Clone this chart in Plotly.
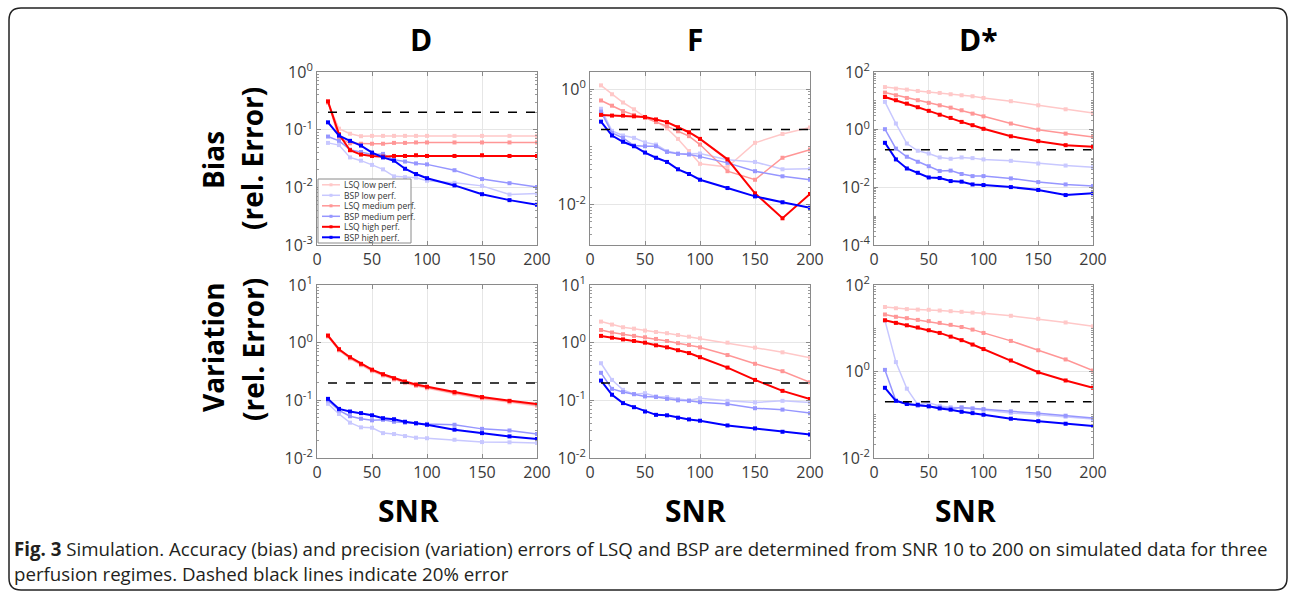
import plotly.graph_objects as go

W, H = 1292, 595

SNR = [10, 20, 30, 40, 50, 60, 70, 80, 90, 100, 125, 150, 175, 200]

series_names = ["LSQ low perf.", "BSP low perf.", "LSQ medium perf.",
                "BSP medium perf.", "LSQ high perf.", "BSP high perf."]
series_colors = ["#FFC8C8", "#C8C8FF", "#FF9696", "#9696FF", "#FF0000", "#0000FF"]
series_widths = [1.5, 1.5, 1.5, 1.5, 2, 2]

# ---- D bias
D_bias_LSQ_low = [0.29, 0.104, 0.085, 0.077, 0.078, 0.078, 0.078, 0.078, 0.078, 0.078, 0.078, 0.078, 0.078, 0.078]
D_bias_LSQ_med = [0.30, 0.072, 0.058, 0.057, 0.057, 0.057, 0.059, 0.059, 0.060, 0.060, 0.060, 0.060, 0.060, 0.060]
D_bias_LSQ_high = [0.31, 0.083, 0.044, 0.037, 0.035, 0.034, 0.035, 0.035, 0.036, 0.035, 0.035, 0.036, 0.035, 0.035]
D_bias_BSP_low = [0.059, 0.054, 0.033, 0.029, 0.0245, 0.0205, 0.0155, 0.015, 0.0147, 0.013, 0.012, 0.0106, 0.0075, 0.0078]
D_bias_BSP_med = [0.076, 0.064, 0.045, 0.041, 0.037, 0.038, 0.030, 0.028, 0.026, 0.025, 0.0198, 0.0139, 0.0118, 0.0101]
D_bias_BSP_high = [0.134, 0.079, 0.064, 0.053, 0.040, 0.033, 0.029, 0.021, 0.017, 0.0144, 0.0108, 0.0076, 0.006, 0.005]

# ---- F bias
F_bias_LSQ_low = [1.17, 0.82, 0.59, 0.45, 0.33, 0.28, 0.21, 0.138, 0.085, 0.051, 0.045, 0.118, 0.168, 0.217]
F_bias_LSQ_med = [0.64, 0.52, 0.42, 0.36, 0.32, 0.27, 0.23, 0.187, 0.154, 0.11, 0.038, 0.027, 0.065, 0.09]
F_bias_LSQ_high = [0.36, 0.35, 0.35, 0.34, 0.33, 0.30, 0.27, 0.22, 0.18, 0.138, 0.061, 0.0157, 0.0058, 0.0153]
F_bias_BSP_low = [0.46, 0.19, 0.158, 0.144, 0.12, 0.11, 0.085, 0.077, 0.076, 0.077, 0.06, 0.055, 0.041, 0.042]
F_bias_BSP_med = [0.41, 0.175, 0.144, 0.106, 0.103, 0.103, 0.082, 0.076, 0.074, 0.068, 0.053, 0.038, 0.031, 0.027]
F_bias_BSP_high = [0.275, 0.158, 0.123, 0.103, 0.08, 0.065, 0.055, 0.041, 0.034, 0.027, 0.0194, 0.0139, 0.011, 0.0088]

# ---- D* bias
Ds_bias_LSQ_low = [30, 26.5, 24.5, 22, 20.3, 18.8, 16.9, 15.6, 14.4, 12.6, 9.7, 7.0, 5.1, 3.8]
Ds_bias_LSQ_med = [19.3, 15.6, 12.6, 10.5, 8.5, 7.0, 5.8, 4.7, 3.6, 2.9, 1.63, 1.0, 0.73, 0.56]
Ds_bias_LSQ_high = [13.6, 10.5, 8.0, 6.0, 4.5, 3.3, 2.56, 1.86, 1.43, 1.07, 0.59, 0.40, 0.29, 0.254]
Ds_bias_BSP_low = [9.2, 1.63, 0.33, 0.185, 0.149, 0.109, 0.098, 0.109, 0.103, 0.093, 0.083, 0.067, 0.057, 0.050]
Ds_bias_BSP_med = [1.04, 0.22, 0.115, 0.077, 0.054, 0.037, 0.038, 0.029, 0.0245, 0.0245, 0.0204, 0.0152, 0.0126, 0.0111]
Ds_bias_BSP_high = [0.35, 0.093, 0.045, 0.032, 0.022, 0.021, 0.0165, 0.0157, 0.0126, 0.012, 0.0102, 0.0081, 0.0054, 0.0062]

# ---- D variation
D_var_LSQ_low = [1.27, 0.73, 0.53, 0.405, 0.32, 0.268, 0.228, 0.199, 0.177, 0.161, 0.130, 0.107, 0.092, 0.080]
D_var_LSQ_med = [1.30, 0.75, 0.54, 0.415, 0.33, 0.275, 0.234, 0.205, 0.182, 0.166, 0.134, 0.110, 0.095, 0.083]
D_var_LSQ_high = [1.33, 0.77, 0.56, 0.43, 0.34, 0.284, 0.242, 0.212, 0.188, 0.172, 0.139, 0.114, 0.098, 0.086]
D_var_BSP_low = [0.087, 0.058, 0.041, 0.034, 0.0335, 0.027, 0.026, 0.024, 0.0225, 0.022, 0.0207, 0.0189, 0.0187, 0.0182]
D_var_BSP_med = [0.10, 0.067, 0.053, 0.048, 0.045, 0.046, 0.0425, 0.041, 0.040, 0.039, 0.0377, 0.032, 0.030, 0.026]
D_var_BSP_high = [0.106, 0.071, 0.064, 0.060, 0.055, 0.049, 0.047, 0.0425, 0.040, 0.0377, 0.031, 0.027, 0.0237, 0.0213]

# ---- F variation
F_var_LSQ_low = [2.32, 2.06, 1.85, 1.75, 1.62, 1.53, 1.46, 1.36, 1.27, 1.19, 1.0, 0.82, 0.68, 0.55]
F_var_LSQ_med = [1.66, 1.50, 1.40, 1.31, 1.24, 1.16, 1.07, 0.98, 0.91, 0.83, 0.61, 0.43, 0.32, 0.206]
F_var_LSQ_high = [1.31, 1.22, 1.14, 1.07, 1.0, 0.90, 0.83, 0.74, 0.66, 0.56, 0.37, 0.226, 0.146, 0.105]
F_var_BSP_low = [0.44, 0.226, 0.152, 0.128, 0.133, 0.117, 0.114, 0.105, 0.10, 0.109, 0.098, 0.092, 0.098, 0.092]
F_var_BSP_med = [0.30, 0.158, 0.139, 0.128, 0.117, 0.114, 0.106, 0.10, 0.098, 0.093, 0.086, 0.073, 0.069, 0.060]
F_var_BSP_high = [0.22, 0.125, 0.0895, 0.076, 0.064, 0.056, 0.055, 0.050, 0.0467, 0.0443, 0.0367, 0.0326, 0.0285, 0.0256]

# ---- D* variation
Ds_var_LSQ_low = [31, 29, 27.7, 27, 26.7, 25.7, 24.8, 24, 23, 22.3, 19.4, 16.5, 13.6, 11.1]
Ds_var_LSQ_med = [20.8, 18.4, 17.1, 15.6, 14.6, 13.3, 12.0, 10.7, 9.3, 7.8, 5.1, 3.1, 1.9, 1.05]
Ds_var_LSQ_high = [15.3, 13.3, 11.7, 10.4, 9.0, 7.8, 6.4, 5.3, 4.2, 3.3, 1.8, 0.96, 0.62, 0.42]
Ds_var_BSP_low = [15.0, 1.65, 0.40, 0.17, 0.19, 0.16, 0.15, 0.145, 0.138, 0.128, 0.11, 0.10, 0.09, 0.080]
Ds_var_BSP_med = [1.09, 0.21, 0.177, 0.162, 0.157, 0.148, 0.14, 0.148, 0.14, 0.135, 0.12, 0.108, 0.095, 0.084]
Ds_var_BSP_high = [0.42, 0.21, 0.177, 0.17, 0.157, 0.14, 0.131, 0.117, 0.109, 0.10, 0.081, 0.071, 0.062, 0.055]

THRESHOLD = 0.2

panels = [
    ([D_bias_LSQ_low, D_bias_BSP_low, D_bias_LSQ_med, D_bias_BSP_med, D_bias_LSQ_high, D_bias_BSP_high], [-3, 0], [-3, -2, -1, 0]),
    ([F_bias_LSQ_low, F_bias_BSP_low, F_bias_LSQ_med, F_bias_BSP_med, F_bias_LSQ_high, F_bias_BSP_high], [-2.7, 0.3], [-2, 0]),
    ([Ds_bias_LSQ_low, Ds_bias_BSP_low, Ds_bias_LSQ_med, Ds_bias_BSP_med, Ds_bias_LSQ_high, Ds_bias_BSP_high], [-4, 2], [-4, -2, 0, 2]),
    ([D_var_LSQ_low, D_var_BSP_low, D_var_LSQ_med, D_var_BSP_med, D_var_LSQ_high, D_var_BSP_high], [-2, 1], [-2, -1, 0, 1]),
    ([F_var_LSQ_low, F_var_BSP_low, F_var_LSQ_med, F_var_BSP_med, F_var_LSQ_high, F_var_BSP_high], [-2, 1], [-2, -1, 0, 1]),
    ([Ds_var_LSQ_low, Ds_var_BSP_low, Ds_var_LSQ_med, Ds_var_BSP_med, Ds_var_LSQ_high, Ds_var_BSP_high], [-2, 2], [-2, 0, 2]),
]

col_px = [(317, 537), (590, 810), (874, 1093)]
row_px = [(72, 245), (285, 458)]


def px_x(v):
    return v / W


def px_y(v):
    return 1 - v / H


fig = go.Figure()
layout = {}
tick_font = dict(family="Open Sans", size=16, color="#3a3a3a")

for i, (series, yr, texp) in enumerate(panels):
    r, c = divmod(i, 3)
    n = i + 1
    xa = "x" if n == 1 else f"x{n}"
    ya = "y" if n == 1 else f"y{n}"
    for s, vals in enumerate(series):
        fig.add_trace(go.Scatter(
            x=SNR, y=vals, mode="lines+markers", xaxis=xa, yaxis=ya,
            name=series_names[s], showlegend=False,
            line=dict(color=series_colors[s], width=series_widths[s]),
            marker=dict(symbol="square", size=4, color=series_colors[s]),
        ))
    fig.add_trace(go.Scatter(
        x=[SNR[0], SNR[-1]], y=[THRESHOLD, THRESHOLD], mode="lines",
        xaxis=xa, yaxis=ya, showlegend=False,
        line=dict(color="black", width=1.5, dash="dash"),
    ))
    x0, x1 = col_px[c]
    t, b = row_px[r]
    layout["xaxis" if n == 1 else f"xaxis{n}"] = dict(
        domain=[px_x(x0), px_x(x1)], anchor=ya, range=[0, 200], automargin=False,
        tickmode="array", tickvals=[0, 50, 100, 150, 200],
        ticks="inside", ticklen=4, tickcolor="#8a8a8a",
        showline=True, linecolor="#8a8a8a", linewidth=1, mirror="ticks",
        showgrid=True, gridcolor="#e6e6e6", gridwidth=1, zeroline=False,
        tickfont=tick_font,
    )
    layout["yaxis" if n == 1 else f"yaxis{n}"] = dict(
        domain=[px_y(b), px_y(t)], anchor=xa, type="log", range=yr, automargin=False,
        tickmode="array", tickvals=[10 ** k for k in texp],
        ticktext=[f"10<sup>{k}</sup>" for k in texp],
        ticks="inside", ticklen=4, tickcolor="#8a8a8a",
        showline=True, linecolor="#8a8a8a", linewidth=1, mirror="allticks",
        showgrid=True, gridcolor="#e6e6e6", gridwidth=1, zeroline=False,
        tickfont=tick_font,
        minor=dict(ticks="inside", ticklen=2, tickcolor="#9a9a9a", dtick="D1", showgrid=False),
    )

annotations = []
shapes = []

for txt, xc in [("D", 421), ("F", 695), ("D*", 978)]:
    annotations.append(dict(text=f"<b>{txt}</b>", x=px_x(xc), y=px_y(40), xref="paper", yref="paper",
                            showarrow=False, xanchor="center", yanchor="middle",
                            font=dict(family="Open Sans", size=30, color="black")))
for xc in [408, 695, 965]:
    annotations.append(dict(text="<b>SNR</b>", x=px_x(xc), y=px_y(511), xref="paper", yref="paper",
                            showarrow=False, xanchor="center", yanchor="middle",
                            font=dict(family="Open Sans", size=30, color="black")))
for txt, xc, yc in [("Bias", 213, 160), ("(rel. Error)", 252, 159),
                    ("Variation", 213, 347), ("(rel. Error)", 253, 350)]:
    annotations.append(dict(text=f"<b>{txt}</b>", x=px_x(xc), y=px_y(yc), xref="paper", yref="paper",
                            showarrow=False, xanchor="center", yanchor="middle", textangle=-90,
                            font=dict(family="Open Sans", size=28, color="black")))

cap_font = dict(family="Open Sans", size=18.7, color="#231f20")
annotations.append(dict(
    text="<b>Fig. 3</b> Simulation. Accuracy (bias) and precision (variation) errors of LSQ and BSP are determined from SNR 10 to 200 on simulated data for three",
    x=px_x(12), y=px_y(548), xref="paper", yref="paper", showarrow=False,
    xanchor="left", yanchor="middle", font=cap_font))
annotations.append(dict(
    text="perfusion regimes. Dashed black lines indicate 20% error",
    x=px_x(12), y=px_y(573), xref="paper", yref="paper", showarrow=False,
    xanchor="left", yanchor="middle", font=cap_font))

# compact legend inside the first panel
lx0, ly0, lx1, ly1 = 318, 179, 411, 243
shapes.append(dict(type="rect", xref="paper", yref="paper", x0=px_x(lx0), x1=px_x(lx1),
                   y0=px_y(ly1), y1=px_y(ly0), fillcolor="white", line=dict(color="#8a8a8a", width=1),
                   layer="above"))
for s, name in enumerate(series_names):
    yc = ly0 + 5.8 + s * 10.5
    shapes.append(dict(type="line", xref="paper", yref="paper", x0=px_x(322), x1=px_x(340),
                       y0=px_y(yc), y1=px_y(yc), line=dict(color=series_colors[s], width=series_widths[s]),
                       layer="above"))
    shapes.append(dict(type="rect", xref="paper", yref="paper", x0=px_x(329.5), x1=px_x(332.5),
                       y0=px_y(yc + 1.5), y1=px_y(yc - 1.5), fillcolor=series_colors[s],
                       line=dict(width=0), layer="above"))
    annotations.append(dict(text=name, x=px_x(342), y=px_y(yc), xref="paper", yref="paper",
                            showarrow=False, xanchor="left", yanchor="middle",
                            font=dict(family="Open Sans", size=8.5, color="#333333")))

# rounded figure frame
L, T, R, B, rad = 9, 8, 1287, 590, 12
path = (f"M {px_x(L + rad)},{px_y(T)} L {px_x(R - rad)},{px_y(T)} Q {px_x(R)},{px_y(T)} {px_x(R)},{px_y(T + rad)} "
        f"L {px_x(R)},{px_y(B - rad)} Q {px_x(R)},{px_y(B)} {px_x(R - rad)},{px_y(B)} "
        f"L {px_x(L + rad)},{px_y(B)} Q {px_x(L)},{px_y(B)} {px_x(L)},{px_y(B - rad)} "
        f"L {px_x(L)},{px_y(T + rad)} Q {px_x(L)},{px_y(T)} {px_x(L + rad)},{px_y(T)} Z")
shapes.append(dict(type="path", xref="paper", yref="paper", path=path,
                   line=dict(color="#222222", width=1.5), layer="below"))

fig.update_layout(
    template="none",
    width=W, height=H, autosize=False, margin=dict(l=0, r=0, t=0, b=0, pad=0, autoexpand=False),
    paper_bgcolor="white", plot_bgcolor="white",
    annotations=annotations, shapes=shapes, showlegend=False,
    **layout,
)

fig.write_html("out.html")
